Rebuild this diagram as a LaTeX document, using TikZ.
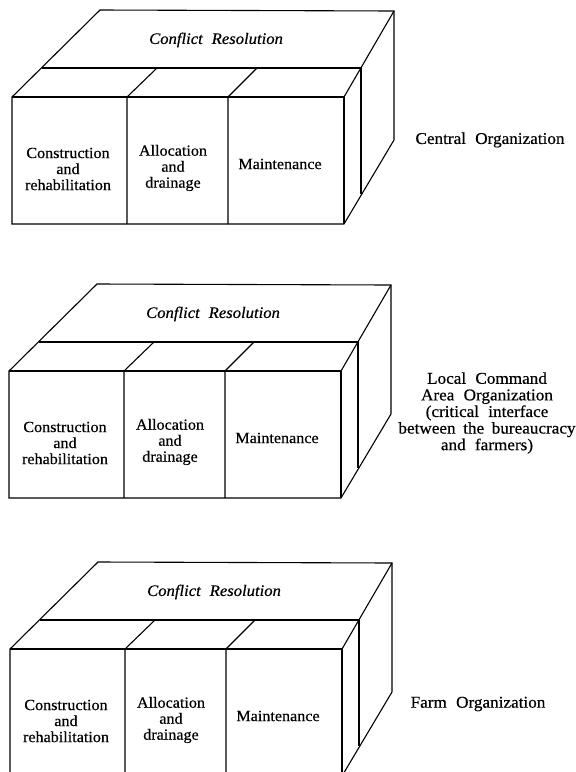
\documentclass[tikz,border=0pt]{standalone}
\usepackage{fontspec}
\setmainfont{Liberation Serif}[FakeStretch=1.04, FakeBold=0.5]
\tikzset{
  edge/.style={line width=1.1pt, line join=miter},
  celltext/.style={align=center, font=\fontsize{15.5}{16}\selectfont, inner sep=0pt},
  toptext/.style={font=\fontsize{16}{17}\selectfont\itshape, inner sep=0pt},
  leveltext/.style={align=center, font=\fontsize{16.5}{16.6}\selectfont, inner sep=0pt},
}
% One organisational level: a block with a "Conflict Resolution" slab on top
% and three functional compartments in front.  #1 = name prefix, #2 = shift
% of the front top-left corner.
\newcommand{\orgbox}[2]{%
  \begin{scope}[shift={#2}]
    \coordinate (#1-ftl) at (0,0);
    \coordinate (#1-ftr) at (332,0);
    \coordinate (#1-fbl) at (0,-127);
    \coordinate (#1-fbr) at (332,-127);
    \coordinate (#1-btl) at (88,87);
    \coordinate (#1-btr) at (382,86);
    \coordinate (#1-ml) at (30,29);
    \coordinate (#1-mr) at (349,29);
    \coordinate (#1-rb) at (382,-43);
    \coordinate (#1-ib) at (349,-97);
    \coordinate (#1-d1) at (115,0);
    \coordinate (#1-d1t) at (145,29);
    \coordinate (#1-d1b) at (115,-127);
    \coordinate (#1-d2) at (216,0);
    \coordinate (#1-d2t) at (245,29);
    \coordinate (#1-d2b) at (216,-127);
    % outline
    \draw[edge] (#1-fbl) -- (#1-ftl) -- (#1-btl) -- (#1-btr) -- (#1-rb) -- (#1-fbr) -- cycle;
    \draw[edge] (#1-ftl) -- (#1-ftr) -- (#1-fbr);
    \draw[edge] (#1-btr) -- (#1-ftr);
    \draw[edge] (#1-ml) -- (#1-mr) -- (#1-ib);
    % compartment walls
    \draw[edge] (#1-d1b) -- (#1-d1) -- (#1-d1t);
    \draw[edge] (#1-d2b) -- (#1-d2) -- (#1-d2t);
    % labels
    \node[toptext] (#1-cr) at (204,57) {Conflict\hspace{0.3em} Resolution};
    \node[celltext] (#1-con) at (56,-72) {Construction\\and\\rehabilitation};
    \node[celltext] (#1-all) at (161,-71) {Allocation\\and\\drainage};
    \node[celltext] (#1-mai) at (268,-67) {Maintenance};
  \end{scope}}
\begin{document}
\begin{tikzpicture}[x=1pt,y=1pt]
  \useasboundingbox (0,0) rectangle (576,-772);
  \clip (0,0) rectangle (576,-772);
  \fill[white] (0,0) rectangle (576,-772);
  \orgbox{central}{(12,-97)}
  \orgbox{local}{(9,-371)}
  \orgbox{farm}{(10,-649)}
  \node[leveltext] (lv1) at (490,-140) {Central\hspace{0.3em} Organization};
  \node[leveltext] (lv2) at (487,-413) {Local\hspace{0.3em} Command\\Area\hspace{0.3em} Organization\\(critical\hspace{0.3em} interface\\between\hspace{0.2em} the\hspace{0.2em} bureaucracy\\and\hspace{0.3em} farmers)};
  \node[leveltext] (lv3) at (478,-704) {Farm\hspace{0.3em} Organization};
\end{tikzpicture}
\end{document}
